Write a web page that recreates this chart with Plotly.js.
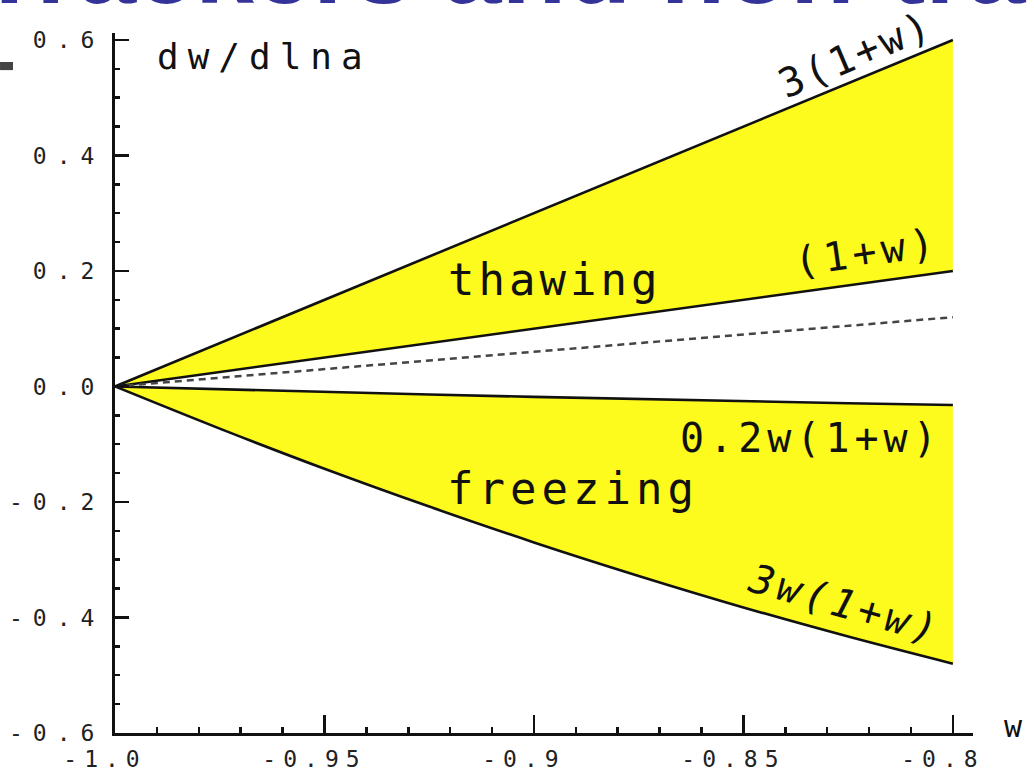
<!DOCTYPE html>
<html>
<head>
<meta charset="utf-8">
<script src="https://cdn.plot.ly/plotly-3.0.1.min.js"></script>
<style>
  html, body { margin: 0; padding: 0; background: #ffffff; }
  #chart { width: 1034px; height: 775px; }
  #chart .xtick text { letter-spacing: 7px; }
  #chart .ytick text { letter-spacing: 10px; }
</style>
</head>
<body>
<div id="chart"></div>
<script>
// ---- data ----
const wValues      = [-1.0, -0.975, -0.95, -0.925, -0.9, -0.875, -0.85, -0.825, -0.8];
const thawUpper    = [0.0, 0.075, 0.15, 0.225, 0.30, 0.375, 0.45, 0.525, 0.60];      // 3(1+w)
const thawLower    = [0.0, 0.025, 0.05, 0.075, 0.10, 0.125, 0.15, 0.175, 0.20];      // (1+w)
const dashedLine   = [0.0, 0.015, 0.03, 0.045, 0.06, 0.075, 0.09, 0.105, 0.12];
const freezeUpper  = [0.0, -0.005, -0.0095, -0.014, -0.018, -0.022, -0.0255, -0.029, -0.032]; // 0.2w(1+w)
const freezeLower  = [0.0, -0.073, -0.1425, -0.208, -0.27, -0.328, -0.3825, -0.433, -0.48];   // 3w(1+w)

const xTickVals  = [-1.0, -0.95, -0.9, -0.85, -0.8];
const xTickText  = ["-1.0", "-0.95", "-0.9", "-0.85", "-0.8"];
const yTickVals  = [-0.6, -0.4, -0.2, 0.0, 0.2, 0.4, 0.6];
const yTickText  = ["-0.6", "-0.4", "-0.2", "0.0", "0.2", "0.4", "0.6"];

const regionLabels = ["thawing", "freezing"];
const curveLabels  = ["3(1+w)", "(1+w)", "0.2w(1+w)", "3w(1+w)"];
const yAxisLabel   = "dw/dlna";
const xAxisLabel   = "w";
const slideTitle   = "Trackers and non-trackers";

// ---- styling ----
const YELLOW = "#FDFA1E";
const LINE = {color: "#111111", width: 2.6};
const MONO = "DejaVu Sans Mono, Liberation Mono, monospace";

const traces = [
  {x: wValues, y: thawLower, mode: "lines", line: LINE, hoverinfo: "skip"},
  {x: wValues, y: thawUpper, mode: "lines", line: LINE, fill: "tonexty", fillcolor: YELLOW, hoverinfo: "skip"},
  {x: wValues, y: freezeUpper, mode: "lines", line: LINE, hoverinfo: "skip"},
  {x: wValues, y: freezeLower, mode: "lines", line: Object.assign({shape: "spline"}, LINE), fill: "tonexty", fillcolor: YELLOW, hoverinfo: "skip"},
  {x: wValues, y: dashedLine, mode: "lines", line: {color: "#444444", width: 2.5, dash: "7px,5px"}, hoverinfo: "skip"}
];

const txtFont = (size, extra) => Object.assign({family: MONO, size: size, color: "#111111"}, extra || {});
const spaced = (t, px) => '<span style="letter-spacing:' + px + 'px">' + t + '</span>';

const annotations = [
  {text: slideTitle, xref: "paper", yref: "paper", x: -0.163, y: 1.0086, xanchor: "left", yanchor: "bottom",
   showarrow: false, font: {family: "Liberation Sans, Arial, sans-serif", size: 106, color: "#333399", weight: "bold"}},
  {text: spaced(yAxisLabel, 9), xref: "x", yref: "y", x: -0.99045, y: 0.572, xanchor: "left", yanchor: "middle", showarrow: false, font: txtFont(36)},
  {text: xAxisLabel, xref: "paper", yref: "paper", x: 1.0338, y: 0.01, xanchor: "left", yanchor: "middle", showarrow: false, font: txtFont(30)},
  {text: spaced(regionLabels[0], 4), xref: "x", yref: "y", x: -0.895, y: 0.186, showarrow: false, font: txtFont(44)},
  {text: spaced(regionLabels[1], 5), xref: "x", yref: "y", x: -0.8907, y: -0.1775, showarrow: false, font: txtFont(44)},
  {text: spaced(curveLabels[0], 3), xref: "x", yref: "y", x: -0.8232, y: 0.576, textangle: -23, showarrow: false, font: txtFont(40)},
  {text: spaced(curveLabels[1], 5), xref: "x", yref: "y", x: -0.8206, y: 0.232, textangle: -8, showarrow: false, font: txtFont(40)},
  {text: spaced(curveLabels[2], 5), xref: "x", yref: "y", x: -0.8338, y: -0.089, showarrow: false, font: txtFont(40)},
  {text: spaced(curveLabels[3], 4), xref: "x", yref: "y", x: -0.8258, y: -0.377, textangle: 16, showarrow: false, font: txtFont(40, {style: "italic"})}
];

const layout = {
  width: 1034, height: 775,
  margin: {l: 115, r: 61, t: 33, b: 42, pad: 0},
  paper_bgcolor: "#ffffff", plot_bgcolor: "#ffffff",
  showlegend: false,
  xaxis: {
    range: [-1.0, -0.7952], showgrid: false, zeroline: false,
    showline: true, linecolor: "#111111", linewidth: 3,
    tickmode: "array", tickvals: xTickVals, ticktext: xTickText,
    ticks: "inside", ticklen: 18, tickwidth: 2.5, tickcolor: "#111111",
    ticklabelstandoff: 3, ticklabelshift: -10,
    tickfont: {family: MONO, size: 23, color: "#222222"},
    minor: {tickmode: "linear", tick0: -1.0, dtick: 0.01, ticks: "inside", ticklen: 6, tickwidth: 2.5, tickcolor: "#111111", showgrid: false}
  },
  yaxis: {
    range: [-0.6, 0.612], showgrid: false, zeroline: false,
    showline: true, linecolor: "#111111", linewidth: 3,
    tickmode: "array", tickvals: yTickVals, ticktext: yTickText,
    ticks: "inside", ticklen: 14, tickwidth: 2.5, tickcolor: "#111111",
    ticklabelstandoff: 3,
    tickfont: {family: MONO, size: 23, color: "#222222"},
    minor: {tickmode: "linear", tick0: 0, dtick: 0.05, ticks: "inside", ticklen: 5, tickwidth: 2.5, tickcolor: "#111111", showgrid: false}
  },
  shapes: [
    {type: "rect", xref: "paper", yref: "paper", x0: -0.134, x1: -0.1189, y0: 0.947, y1: 0.9586,
     fillcolor: "#444444", line: {width: 0}}
  ],
  annotations: annotations
};

Plotly.newPlot("chart", traces, layout, {staticPlot: true, displayModeBar: false});
</script>
</body>
</html>
